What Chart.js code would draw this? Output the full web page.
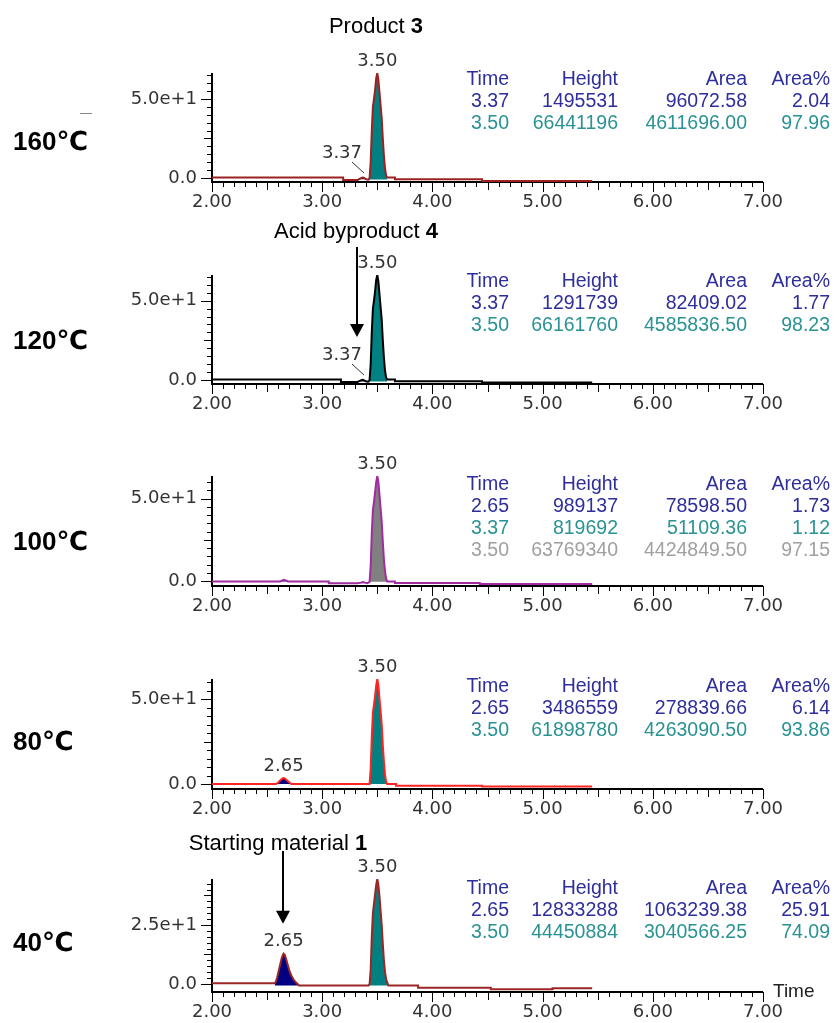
<!DOCTYPE html>
<html>
<head>
<meta charset="utf-8">
<title>Chromatograms</title>
<script src="https://cdn.jsdelivr.net/npm/chart.js@4.4.1/dist/chart.umd.min.js"></script>
<style>
  body { margin: 0; background: #fff; }
  #page { position: relative; width: 835px; height: 1023px; overflow: hidden; font-family: "Liberation Sans", Arial, sans-serif; }
  canvas { position: absolute; left: 0; }
  .txt { position: absolute; white-space: nowrap; line-height: 1; }
  .temp { font-size: 26px; font-weight: bold; color: #000; transform: translateY(-50%); font-family: "Liberation Sans", Arial, "DejaVu Sans", sans-serif; }
  .title { font-size: 22px; color: #000; transform: translate(-50%, -50%); }
  .cell { font-size: 19.5px; transform: translateY(-50%); text-align: right; }
</style>
</head>
<body>
<div id="page"></div>
<script>
// x axis tick labels (minutes)
const tickTimes = [2, 3, 4, 5, 6, 7];

// traces: [time, signal (x1e6)]
const trace160 = [
  [2.00, 0.3], [3.19, 0.3], [3.19, -1.2], [3.32, -1.2], [3.34, -0.5], [3.36, 0.2], [3.37, 0.3],
  [3.38, 0.1], [3.40, -0.8], [3.42, -1.0], [3.43, 0.0], [3.44, 10], [3.45, 30], [3.46, 45],
  [3.47, 50], [3.48, 56], [3.49, 63], [3.50, 66.44], [3.51, 62], [3.52, 54], [3.53, 46],
  [3.54, 38], [3.55, 25], [3.56, 14], [3.57, 6], [3.58, 1.5], [3.59, 0.3], [3.66, 0.3],
  [3.66, -0.8], [4.45, -0.8], [4.45, -1.9], [5.45, -1.9]
];
const trace120 = [
  [2.00, 0.3], [3.17, 0.3], [3.17, -1.2], [3.32, -1.2], [3.34, -0.6], [3.36, 0.0], [3.37, 0.1],
  [3.38, -0.2], [3.40, -0.9], [3.42, -1.0], [3.43, 0.0], [3.44, 10], [3.45, 30], [3.46, 45],
  [3.47, 50], [3.48, 56], [3.49, 63], [3.50, 66.16], [3.51, 62], [3.52, 54], [3.53, 46],
  [3.54, 38], [3.55, 25], [3.56, 14], [3.57, 6], [3.58, 1.5], [3.59, 0.3], [3.66, 0.3],
  [3.66, -0.8], [4.45, -0.8], [4.45, -1.6], [5.45, -1.6]
];
const trace100 = [
  [2.00, -0.3], [2.62, -0.3], [2.64, 0.4], [2.65, 0.7], [2.67, 0.4], [2.69, -0.3], [3.06, -0.3],
  [3.06, -1.4], [3.32, -1.4], [3.35, -1.0], [3.37, -0.6], [3.39, -1.0], [3.41, -1.3], [3.43, -0.5],
  [3.44, 9], [3.45, 29], [3.46, 43], [3.47, 48], [3.48, 54], [3.49, 60], [3.50, 63.77],
  [3.51, 60], [3.52, 52], [3.53, 44], [3.54, 36], [3.55, 24], [3.56, 13], [3.57, 6],
  [3.58, 1.4], [3.59, -0.3], [3.66, -0.3], [3.66, -1.2], [4.43, -1.2], [4.43, -1.8], [5.45, -1.8]
];
const trace80 = [
  [2.00, 0], [2.58, 0], [2.60, 0.8], [2.62, 2.2], [2.64, 3.3], [2.65, 3.49], [2.66, 3.3],
  [2.68, 2.2], [2.70, 1.0], [2.72, 0], [3.43, 0], [3.44, 9], [3.45, 28], [3.46, 42],
  [3.47, 47], [3.48, 52], [3.49, 58], [3.50, 61.9], [3.51, 58], [3.52, 50], [3.53, 43],
  [3.54, 35], [3.55, 23], [3.56, 13], [3.57, 5.5], [3.58, 1.4], [3.59, 0], [3.67, 0],
  [3.67, -1.0], [4.45, -1.0], [4.45, -1.5], [5.45, -1.5]
];
const trace40 = [
  [2.00, 0.3], [2.57, 0.3], [2.58, 1.0], [2.59, 2.5], [2.60, 4.5], [2.61, 6.5], [2.62, 8.5],
  [2.63, 10.5], [2.64, 12.0], [2.65, 12.83], [2.66, 12.4], [2.67, 11.0], [2.68, 9.3], [2.69, 7.6],
  [2.70, 6.0], [2.71, 4.7], [2.72, 3.6], [2.73, 2.7], [2.74, 1.9], [2.75, 1.3], [2.76, 0.8],
  [2.77, 0.3], [2.79, -0.6], [3.42, -0.6], [3.43, 0], [3.44, 6], [3.45, 20], [3.46, 30],
  [3.47, 34], [3.48, 38], [3.49, 42], [3.50, 44.45], [3.51, 42], [3.52, 37], [3.53, 31],
  [3.54, 25], [3.55, 17], [3.56, 10], [3.57, 5], [3.58, 2], [3.59, 0.7], [3.60, -0.6],
  [3.87, -0.6], [3.87, -1.6], [4.53, -1.6], [4.53, -2.2], [5.09, -2.2], [5.09, -1.8], [5.45, -1.8]
];

// integrated peak windows [start, end]
const windows160 = [[3.33, 3.41], [3.42, 3.59]];
const windows120 = [[3.33, 3.41], [3.42, 3.59]];
const windows100 = [[2.62, 2.69], [3.32, 3.41], [3.42, 3.59]];
const windows80 = [[2.58, 2.72], [3.43, 3.59]];
const windows40 = [[2.57, 2.79], [3.42, 3.60]];

// peak tables: time, height, area, area%
const table160 = [[3.37, 1495531, 96072.58, 2.04], [3.50, 66441196, 4611696.00, 97.96]];
const table120 = [[3.37, 1291739, 82409.02, 1.77], [3.50, 66161760, 4585836.50, 98.23]];
const table100 = [[2.65, 989137, 78598.50, 1.73], [3.37, 819692, 51109.36, 1.12], [3.50, 63769340, 4424849.50, 97.15]];
const table80 = [[2.65, 3486559, 278839.66, 6.14], [3.50, 61898780, 4263090.50, 93.86]];
const table40 = [[2.65, 12833288, 1063239.38, 25.91], [3.50, 44450884, 3040566.25, 74.09]];

// which peaks get a time label
const labelled160 = [3.37, 3.50];
const labelled120 = [3.37, 3.50];
const labelled100 = [3.50];
const labelled80 = [2.65, 3.50];
const labelled40 = [2.65, 3.50];

const tableHeaders = ['Time', 'Height', 'Area', 'Area%'];
const rowColors = ['#2e2e9c', '#2a9292', '#a0a0a0'];
const fillColors = ['#000080', '#008080', '#808080'];

// zero: pixel row of signal 0, gap: pixels between 0 and the time axis
const panels = [
  { temp: '160℃', zero: 178, gap: 4, tempY: 141, tableY: 79, trace: trace160, windows: windows160, table: table160, labelled: labelled160, yLabels: [0, 50], color: '#9c2222' },
  { temp: '120℃', zero: 380, gap: 4, tempY: 340, tableY: 281, trace: trace120, windows: windows120, table: table120, labelled: labelled120, yLabels: [0, 50], color: '#000000', arrowAt: 3.32 },
  { temp: '100℃', zero: 581, gap: 5, tempY: 541, tableY: 484, trace: trace100, windows: windows100, table: table100, labelled: labelled100, yLabels: [0, 50], color: '#a02ca0' },
  { temp: '80℃', zero: 784, gap: 5, tempY: 741, tableY: 686, trace: trace80, windows: windows80, table: table80, labelled: labelled80, yLabels: [0, 50], color: '#ff2424' },
  { temp: '40℃', zero: 984, gap: 8, tempY: 942, tableY: 888, trace: trace40, windows: windows40, table: table40, labelled: labelled40, yLabels: [0, 25], color: '#9c2626', arrowAt: 2.64 }
];

const PAD_TOP = 40;
const TOP_H = 105;
const AXIS_H = 40;
const LEFT = 212;
const RIGHT = 763;
const tickFamily = '"DejaVu Sans", Verdana, sans-serif';
const tickFont = '18px ' + tickFamily;

const decoPlugin = {
  id: 'deco',
  beforeDatasetsDraw(chart, args, opts) {
    const { ctx, chartArea: a, scales: { x, y } } = chart;
    ctx.save();
    ctx.strokeStyle = '#000';
    ctx.lineWidth = 2;
    ctx.beginPath();
    ctx.moveTo(a.left, a.top);
    ctx.lineTo(a.left, a.bottom);
    ctx.lineTo(a.right, a.bottom);
    ctx.stroke();
    ctx.lineWidth = 1;
    ctx.beginPath();
    for (let i = 0; i <= 50; i++) {
      const px = Math.round(x.getPixelForValue(2 + i / 10)) + 0.5;
      const len = i % 10 === 0 ? 10 : i % 5 === 0 ? 8 : 5;
      ctx.moveTo(px, a.bottom);
      ctx.lineTo(px, a.bottom + len);
    }
    const step = opts.yStep;
    for (let i = 0; i * step <= y.max; i++) {
      const py = Math.round(y.getPixelForValue(i * step)) + 0.5;
      const len = i % 10 === 0 ? 11 : i % 5 === 0 ? 8 : 5;
      ctx.moveTo(a.left, py);
      ctx.lineTo(a.left - len, py);
    }
    ctx.stroke();
    ctx.restore();
  },
  afterDatasetsDraw(chart, args, opts) {
    const { ctx, chartArea: a, scales: { x, y } } = chart;
    const z = y.getPixelForValue(0);
    ctx.save();
    ctx.font = tickFont;
    ctx.fillStyle = '#333';
    ctx.strokeStyle = '#333';
    ctx.textAlign = 'center';
    ctx.textBaseline = 'middle';
    let arrowTip = null;
    opts.labelled.forEach(t => {
      const row = opts.table.find(r => r[0] === t);
      const h = row[1] / 1e6;
      const px = x.getPixelForValue(t);
      let ly;
      if (h < 2) {
        ly = z - 25;
        ctx.fillText(t.toFixed(2), px - 21, ly);
        ctx.lineWidth = 1;
        ctx.beginPath();
        ctx.moveTo(px - 11, z - 16);
        ctx.lineTo(px + 1, z - 5);
        ctx.stroke();
      } else {
        ly = y.getPixelForValue(h) - 12;
        ctx.fillText(t.toFixed(2), px, ly);
      }
      if (opts.arrowAt !== undefined && Math.abs(t - opts.arrowAt) < 0.1) arrowTip = ly - 18;
    });
    if (arrowTip !== null) {
      const ax = Math.round(x.getPixelForValue(opts.arrowAt));
      ctx.strokeStyle = '#000';
      ctx.fillStyle = '#000';
      ctx.lineWidth = 2;
      ctx.beginPath();
      ctx.moveTo(ax, a.top - 28);
      ctx.lineTo(ax, arrowTip - 12);
      ctx.stroke();
      ctx.beginPath();
      ctx.moveTo(ax - 7, arrowTip - 13);
      ctx.lineTo(ax + 7, arrowTip - 13);
      ctx.lineTo(ax, arrowTip);
      ctx.closePath();
      ctx.fill();
    }
    ctx.restore();
  }
};

const page = document.getElementById('page');

function addText(html, cls, style) {
  const el = document.createElement('div');
  el.className = 'txt ' + cls;
  el.innerHTML = html;
  Object.assign(el.style, style);
  page.appendChild(el);
  return el;
}

panels.forEach(p => {
  const canvas = document.createElement('canvas');
  canvas.width = 835;
  canvas.height = PAD_TOP + TOP_H + p.gap + AXIS_H;
  canvas.style.top = (p.zero - TOP_H - PAD_TOP) + 'px';
  page.appendChild(canvas);

  const ymax = Math.max(...p.trace.map(d => d[1]));
  const ymin = -p.gap * ymax / TOP_H;

  const datasets = [{
    data: p.trace.map(d => ({ x: d[0], y: d[1] })),
    borderColor: p.color,
    borderWidth: 2,
    pointRadius: 0,
    fill: false,
    order: 1
  }];
  p.windows.forEach((w, i) => {
    const pts = p.trace.filter(d => d[0] >= w[0] && d[0] <= w[1]);
    datasets.push({
      data: pts.map(d => ({ x: d[0], y: d[1] })),
      borderWidth: 0,
      pointRadius: 0,
      backgroundColor: fillColors[i],
      fill: { value: Math.min(pts[0][1], pts[pts.length - 1][1]) },
      order: 2
    });
  });

  new Chart(canvas.getContext('2d'), {
    type: 'line',
    data: { datasets },
    options: {
      responsive: false,
      animation: false,
      layout: { padding: { top: PAD_TOP, right: 835 - RIGHT, left: 0, bottom: 0 } },
      plugins: {
        legend: { display: false },
        tooltip: { enabled: false },
        deco: { yStep: p.yLabels[1] / 10, labelled: p.labelled, table: p.table, arrowAt: p.arrowAt }
      },
      scales: {
        x: {
          type: 'linear', min: 2, max: 7,
          grid: { display: false, drawTicks: false }, border: { display: false },
          afterBuildTicks: s => { s.ticks = tickTimes.map(v => ({ value: v })); },
          afterFit: s => { s.height = AXIS_H; },
          ticks: { padding: 10, maxRotation: 0, autoSkip: false, color: '#333',
                   font: { family: tickFamily, size: 18 },
                   callback: v => v.toFixed(2) }
        },
        y: {
          min: ymin, max: ymax,
          grid: { display: false, drawTicks: false }, border: { display: false },
          afterBuildTicks: s => { s.ticks = p.yLabels.map(v => ({ value: v })); },
          afterFit: s => { s.width = LEFT; },
          ticks: { padding: 15, color: '#333',
                   font: { family: tickFamily, size: 18 },
                   callback: v => v === 0 ? '0.0' : v.toExponential(1) }
        }
      }
    },
    plugins: [decoPlugin]
  });

  // temperature label
  addText(p.temp, 'temp', { left: '13px', top: p.tempY + 'px' });

  // peak table
  const rightEdges = [509, 618, 747, 830];
  tableHeaders.forEach((h, c) => {
    addText(h, 'cell', { right: (835 - rightEdges[c]) + 'px', top: p.tableY + 'px', color: rowColors[0] });
  });
  p.table.forEach((r, i) => {
    const cells = [r[0].toFixed(2), String(r[1]), r[2].toFixed(2), r[3].toFixed(2)];
    cells.forEach((v, c) => {
      addText(v, 'cell', { right: (835 - rightEdges[c]) + 'px', top: (p.tableY + 22 * (i + 1)) + 'px', color: rowColors[i] });
    });
  });
});

addText('Product <b>3</b>', 'title', { left: '376px', top: '26px' });
addText('Acid byproduct <b>4</b>', 'title', { left: '356px', top: '231px' });
addText('Starting material <b>1</b>', 'title', { left: '278px', top: '843px' });
addText('Time', 'cell', { left: '773px', top: '990px', color: '#222', fontSize: '19px', textAlign: 'left' });
addText('', 'dash', { left: '80px', top: '113px', width: '12px', height: '0', borderTop: '1px solid #888' });
</script>
</body>
</html>
